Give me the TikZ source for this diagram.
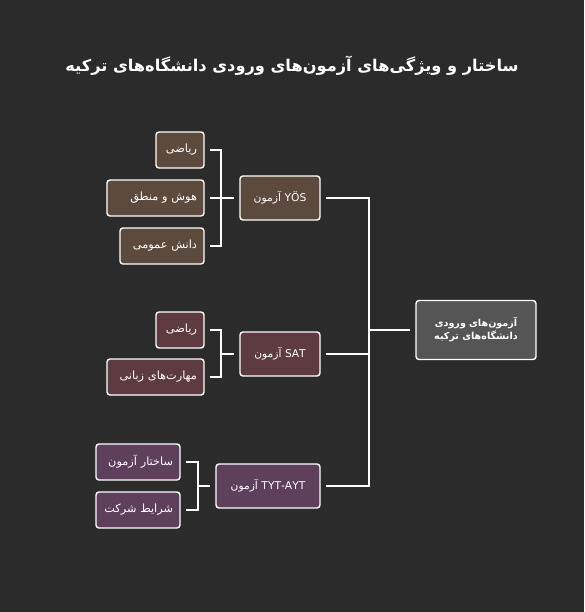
\documentclass[tikz,border=0pt]{standalone}
\usepackage{fontspec}
\newfontfamily\arabicfont[Script=Arabic]{DejaVu Sans}
\TeXXeTstate=1
\definecolor{bgc}{HTML}{2B2B2B}
\definecolor{yosc}{HTML}{5C4A3D}
\definecolor{satc}{HTML}{5E3B40}
\definecolor{tytc}{HTML}{5E3F5C}
\definecolor{rootc}{HTML}{555555}
\tikzset{
  box/.style={draw=white, line width=1.4pt, rounded corners=3pt, inner ysep=0pt,
    text=white, minimum height=36pt},
  leaf/.style={box, inner xsep=7pt, align=right,
    font=\arabicfont\fontsize{11.3}{13}\selectfont},
  mid/.style={box, inner xsep=4pt, align=center, minimum height=44pt,
    font=\arabicfont\fontsize{10.7}{13}\selectfont},
  conn/.style={draw=white, line width=1.4pt},
}
\begin{document}
\begin{tikzpicture}[x=1pt,y=-1pt]
\fill[bgc] (0,0) rectangle (584,612);
\useasboundingbox (0,0) rectangle (584,612);
\node[text=white, font=\arabicfont\bfseries\fontsize{16.2}{19}\selectfont] (title) at (292,66)
  {\beginR ساختار و ویژگی‌های آزمون‌های ورودی دانشگاه‌های ترکیه\endR};
\node[box, fill=rootc, minimum width=120pt, minimum height=59pt, text width=112pt, inner xsep=4pt, align=center,
  font=\arabicfont\bfseries\fontsize{9.6}{13}\selectfont] (root) at (476,330)
  {\beginR آزمون‌های ورودی\endR\\\beginR دانشگاه‌های ترکیه\endR};
\node[mid, fill=yosc, minimum width=80pt, text width=72pt] (yos) at (280,198) {\beginR آزمون\endR\ YÖS};
\node[mid, fill=satc, minimum width=80pt, text width=72pt] (sat) at (280,354) {\beginR آزمون\endR\ SAT};
\node[mid, fill=tytc, minimum width=104pt, text width=96pt] (tyt) at (268,486) {\beginR آزمون\endR\ TYT-AYT};
\node[leaf, fill=yosc, text width=34pt] (y1) at (180,150) {\mbox{\beginR ریاضی\endR}};
\node[leaf, fill=yosc, text width=83pt] (y2) at (155.5,198) {\mbox{\beginR هوش و منطق\endR}};
\node[leaf, fill=yosc, text width=70pt] (y3) at (162,246) {\mbox{\beginR دانش عمومی\endR}};
\node[leaf, fill=satc, text width=34pt] (s1) at (180,330) {\mbox{\beginR ریاضی\endR}};
\node[leaf, fill=satc, text width=83pt] (s2) at (155.5,377) {\mbox{\beginR مهارت‌های زبانی\endR}};
\node[leaf, fill=tytc, text width=70pt] (t1) at (138,462) {\mbox{\beginR ساختار آزمون\endR}};
\node[leaf, fill=tytc, text width=70pt] (t2) at (138,510) {\mbox{\beginR شرایط شرکت\endR}};
\coordinate (sx) at (369,0);
\coordinate (yb) at (221,0);
\coordinate (sb) at (221,0);
\coordinate (tb) at (198,0);
% main spine
\draw[conn] ([xshift=-5pt]root.west) -- (sx |- root.west);
\draw[conn] ([xshift=5pt]yos.east) -| (sx |- tyt.east) -- ([xshift=5pt]tyt.east);
\draw[conn] ([xshift=5pt]sat.east) -- (sx |- sat.east);
% YOS bracket
\draw[conn] ([xshift=5pt]y1.east) -| (yb |- y3.east) -- ([xshift=5pt]y3.east);
\draw[conn] ([xshift=5pt]y2.east) -- ([xshift=-5pt]yos.west);
% SAT bracket
\draw[conn] ([xshift=5pt]s1.east) -| (sb |- s2.east) -- ([xshift=5pt]s2.east);
\draw[conn] (sb |- sat.west) -- ([xshift=-5pt]sat.west);
% TYT bracket
\draw[conn] ([xshift=5pt]t1.east) -| (tb |- t2.east) -- ([xshift=5pt]t2.east);
\draw[conn] (tb |- tyt.west) -- ([xshift=-5pt]tyt.west);
\end{tikzpicture}
\end{document}
